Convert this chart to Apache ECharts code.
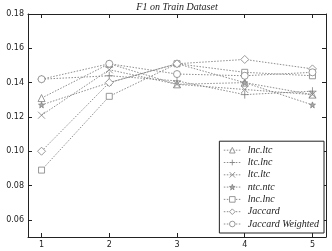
<!DOCTYPE html>
<html>
<head>
<meta charset="utf-8">
<script src="https://cdn.jsdelivr.net/npm/echarts@6/dist/echarts.min.js"></script>
<style>
  html, body { margin: 0; padding: 0; background: #fff; }
  #chart { width: 332px; height: 251px; }
</style>
</head>
<body>
<div id="chart"></div>
<script>
// x positions (runs)
const xValues = [1, 2, 3, 4, 5];
const xTicks = [1, 2, 3, 4, 5];
const yTicks = [0.06, 0.08, 0.10, 0.12, 0.14, 0.16, 0.18];

const lncLtc = [0.131, 0.151, 0.139, 0.140, 0.133];
const ltcLnc = [0.142, 0.144, 0.141, 0.133, 0.135];
const ltcLtc = [0.121, 0.1475, 0.139, 0.136, 0.133];
const ntcNtc = [0.127, 0.140, 0.151, 0.140, 0.127];
const lncLnc = [0.089, 0.132, 0.151, 0.146, 0.144];
const jaccard = [0.100, 0.140, 0.151, 0.1535, 0.148];
const jaccardW = [0.142, 0.151, 0.145, 0.144, 0.146];

const seriesNames = ["lnc.ltc", "ltc.lnc", "ltc.ltc", "ntc.ntc", "lnc.lnc", "Jaccard", "Jaccard Weighted"];
const seriesData = [lncLtc, ltcLnc, ltcLtc, ntcNtc, lncLnc, jaccard, jaccardW];

const grey = "#808080";
const symbols = [
  "triangle",
  "path://M5,0 L5,10 M0,5 L10,5",
  "path://M0,0 L10,10 M10,0 L0,10",
  "path://M5,0 L6.2,3.4 L9.8,3.5 L6.9,5.7 L7.9,9.2 L5,7.1 L2.1,9.2 L3.1,5.7 L0.2,3.5 L3.8,3.4 Z",
  "rect",
  "diamond",
  "circle"
];
const sizes = [7, 8, 7, 6, 6, 8, 7];

const series = seriesNames.map(function (name, i) {
  return {
    name: name,
    type: "line",
    data: xValues.map(function (x, j) { return [x, seriesData[i][j]]; }),
    symbol: symbols[i],
    symbolSize: sizes[i],
    showAllSymbol: true,
    lineStyle: { color: grey, width: 0.9, type: [1.5, 1.5] },
    itemStyle: {
      color: i === 3 ? "#aaa" : "#fff",
      borderColor: grey,
      borderWidth: 0.8
    },
    emphasis: { disabled: true },
    z: 3
  };
});

const chart = echarts.init(document.getElementById("chart"), null, { renderer: "canvas" });
chart.setOption({
  animation: false,
  backgroundColor: "#fff",
  title: {
    text: "F1 on Train Dataset",
    left: 177,
    top: 2,
    padding: 0,
    textAlign: "center",
    textStyle: { fontFamily: "Liberation Serif", fontStyle: "italic", fontWeight: "normal", fontSize: 10, color: "#222" }
  },
  grid: { left: 28, right: 6, top: 14, bottom: 14, containLabel: false, outerBoundsMode: "none" },
  legend: {
    orient: "vertical",
    right: 8,
    bottom: 18,
    padding: [4, 5, 4, 4],
    itemGap: 2.3,
    itemWidth: 17,
    itemHeight: 7,
    itemStyle: { borderWidth: 0.8 },
    lineStyle: { width: 0.9 },
    backgroundColor: "#fff",
    borderColor: "#222",
    borderWidth: 1,
    borderRadius: 0,
    textStyle: { fontFamily: "Liberation Serif", fontStyle: "italic", fontSize: 10, color: "#222", padding: [0, 0, 0, 2] },
    data: seriesNames
  },
  xAxis: [
    {
      type: "value", min: 0.8, max: 5.2,
      axisLine: { lineStyle: { color: "#222", width: 1 } },
      axisTick: { inside: true, length: 4, customValues: xTicks, lineStyle: { color: "#222" } },
      axisLabel: { customValues: xTicks, fontSize: 8, color: "#222", fontFamily: "DejaVu Sans", margin: 4 },
      splitLine: { show: false }
    },
    {
      type: "value", min: 0.8, max: 5.2, position: "top",
      axisLine: { lineStyle: { color: "#222", width: 1 } },
      axisTick: { inside: true, length: 4, customValues: xTicks, lineStyle: { color: "#222" } },
      axisLabel: { show: false },
      splitLine: { show: false }
    }
  ],
  yAxis: [
    {
      type: "value", min: 0.05, max: 0.18,
      name: "F1", nameLocation: "middle", nameGap: 21, nameRotate: 90,
      nameTextStyle: { fontSize: 8, color: "#222", fontFamily: "DejaVu Sans" },
      axisLine: { show: true, lineStyle: { color: "#222", width: 1 } },
      axisTick: { show: true, inside: true, length: 4, customValues: yTicks, lineStyle: { color: "#222" } },
      axisLabel: {
        customValues: yTicks, fontSize: 8, color: "#222", fontFamily: "DejaVu Sans", margin: 4,
        formatter: function (v) { return v.toFixed(2); }
      },
      splitLine: { show: false }
    },
    {
      type: "value", min: 0.05, max: 0.18, position: "right",
      axisLine: { show: true, lineStyle: { color: "#222", width: 1 } },
      axisTick: { show: true, inside: true, length: 4, customValues: yTicks, lineStyle: { color: "#222" } },
      axisLabel: { show: false },
      splitLine: { show: false }
    }
  ],
  series: series
});
</script>
</body>
</html>
